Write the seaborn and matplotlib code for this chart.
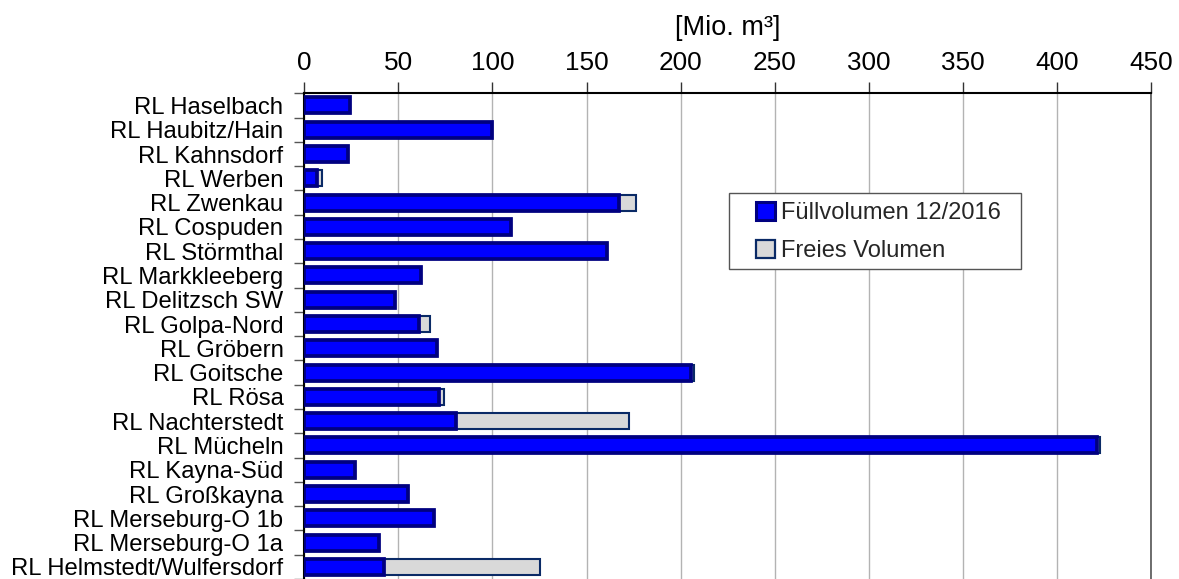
import matplotlib
matplotlib.use("Agg")
import matplotlib.pyplot as plt
import seaborn as sns
import pandas as pd
from matplotlib.patches import Patch, Rectangle

categories = ["RL Haselbach", "RL Haubitz/Hain", "RL Kahnsdorf", "RL Werben", "RL Zwenkau",
              "RL Cospuden", "RL Störmthal", "RL Markkleeberg", "RL Delitzsch SW", "RL Golpa-Nord",
              "RL Gröbern", "RL Goitsche", "RL Rösa", "RL Nachterstedt", "RL Mücheln",
              "RL Kayna-Süd", "RL Großkayna", "RL Merseburg-O 1b", "RL Merseburg-O 1a",
              "RL Helmstedt/Wulfersdorf"]
fuellvolumen = [24.5, 99.5, 23, 7, 167.5, 110, 161, 62, 48, 61, 70.5, 205.5, 71.5, 80.5,
                421.5, 27, 55, 69, 39.5, 42.5]
freies_volumen = [0, 0, 0, 2.5, 9, 0, 0, 0, 0, 6, 0, 1.5, 2.5, 92, 1.5, 0, 0, 0, 0, 83]
xticks = [0, 50, 100, 150, 200, 250, 300, 350, 400, 450]

sns.set_theme(style="white")
plt.rcParams['font.family'] = ['Liberation Sans', 'DejaVu Sans']

df = pd.DataFrame({"cat": categories, "fill": fuellvolumen, "free": freies_volumen})
df["total"] = df["fill"] + df["free"]

W, H = 1179, 579
fig = plt.figure(figsize=(W / 100, H / 100), dpi=100)
ax = fig.add_axes([304.3 / W, 0.0, 846.7 / W, 1 - 93.3 / H])

blue = "#0000FF"
navy = "#000080"
grey = "#D9D9D9"
grey_edge = "#0A2A66"

sns.barplot(data=df, x="total", y="cat", orient="h", color=grey, saturation=1,
            edgecolor=grey_edge, linewidth=1.5, width=0.66, ax=ax, zorder=2)
sns.barplot(data=df, x="fill", y="cat", orient="h", color=blue, saturation=1,
            edgecolor=navy, linewidth=2.7, width=0.66, ax=ax, zorder=3)

ax.set_xlim(0, 450)
ax.set_ylim(len(categories) - 0.5, -0.5)
ax.set_xticks(xticks)
ax.xaxis.tick_top()
ax.xaxis.set_label_position("top")
ax.set_xlabel("[Mio. m³]", fontsize=19.5, labelpad=11.5, color="black")
ax.set_ylabel("")
ax.tick_params(axis="x", labelsize=18.8, length=8, width=1, color="#333333", pad=5.5,
               labelcolor="black", direction="out", top=True, bottom=False)
ax.set_yticks(range(len(categories)))
ax.set_yticks([i + 0.5 for i in range(-1, len(categories))], minor=True)
ax.tick_params(axis="y", which="major", labelsize=17.2, length=0, pad=15, labelcolor="black")
ax.tick_params(axis="y", which="minor", length=7, width=1, color="#555555", left=True,
               direction="out")

ax.grid(axis="x", color="#B3B3B3", linewidth=1, zorder=0)
ax.grid(axis="y", visible=False)
ax.set_axisbelow(True)

for s in ["top", "left"]:
    ax.spines[s].set_color("black")
    ax.spines[s].set_linewidth(1.5)
ax.spines["right"].set_color("#555555")
ax.spines["right"].set_linewidth(1.2)
ax.spines["bottom"].set_visible(False)

# legend frame
fig.add_artist(Rectangle((729 / W, 1 - 269 / H), 292 / W, 76 / H, transform=fig.transFigure,
                         facecolor="white", edgecolor="#555555", linewidth=1, zorder=4))
handles = [Patch(facecolor=blue, edgecolor=navy, linewidth=2.2, label="Füllvolumen 12/2016"),
           Patch(facecolor=grey, edgecolor=grey_edge, linewidth=1.6, label="Freies Volumen")]
leg = fig.legend(handles=handles, loc="upper left", bbox_to_anchor=(756 / W, 1 - 202 / H),
                 fontsize=17, frameon=False, handlelength=0.8, handleheight=0.8,
                 handletextpad=0.25, labelspacing=0.67, borderpad=0, borderaxespad=0)
leg.set_zorder(5)

fig.savefig("out.png", dpi=100)
